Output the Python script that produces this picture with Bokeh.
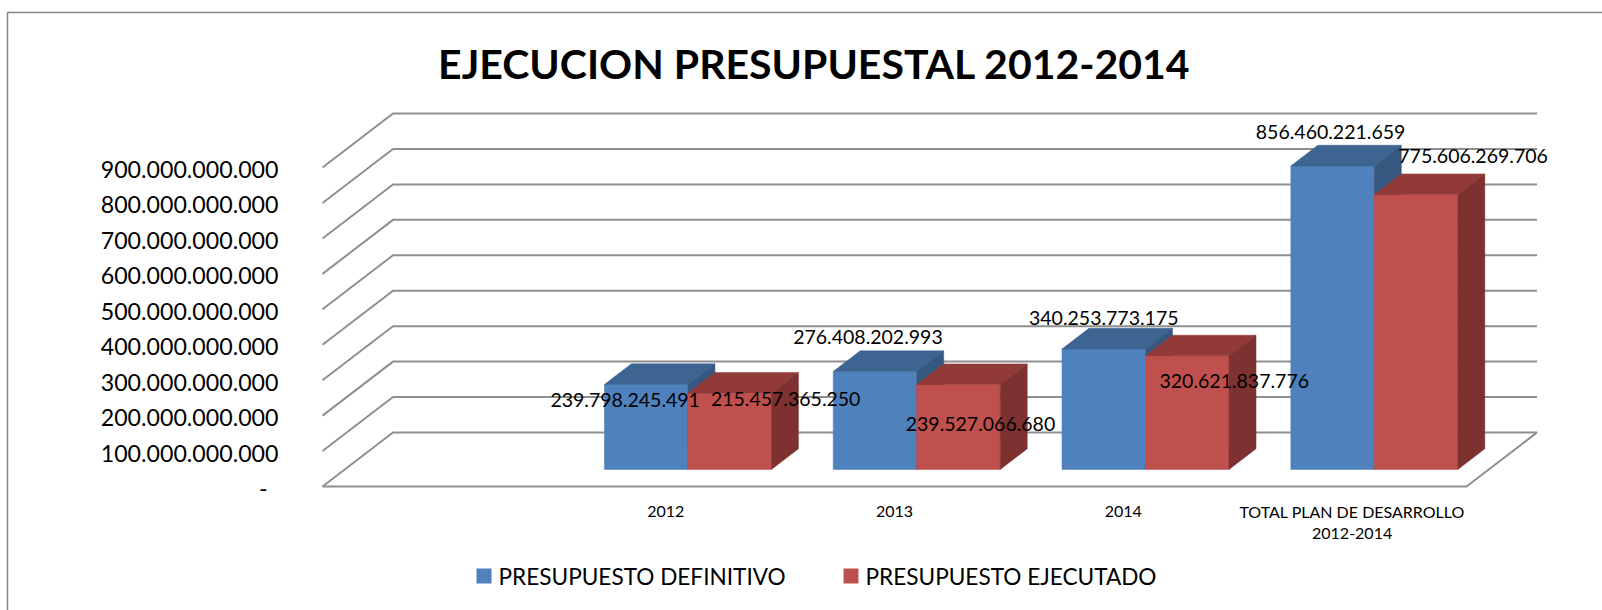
from bokeh.plotting import figure
from bokeh.models import Range1d
from bokeh.core.properties import value
from bokeh.embed import file_html
from bokeh.resources import INLINE

# ---------------- data ----------------
title = "EJECUCION PRESUPUESTAL 2012-2014"
categories = ["2012", "2013", "2014", "TOTAL PLAN DE DESARROLLO\n2012-2014"]
series_names = ["PRESUPUESTO DEFINITIVO", "PRESUPUESTO EJECUTADO"]
definitivo = [239798245491, 276408202993, 340253773175, 856460221659]
ejecutado = [215457365250, 239527066680, 320621837776, 775606269706]
y_ticks = [0, 100e9, 200e9, 300e9, 400e9, 500e9, 600e9, 700e9, 800e9, 900e9]
y_tick_labels = ["-", "100.000.000.000", "200.000.000.000", "300.000.000.000",
                 "400.000.000.000", "500.000.000.000", "600.000.000.000",
                 "700.000.000.000", "800.000.000.000", "900.000.000.000"]

# ---------------- layout / style ----------------
W, H = 1602, 610
FRONT_LEFT_PX = 322.0      # screen x of front plane start
SLOT_PX = 228.8            # pixels per category slot
BASE_PX = 486.0            # screen y of value 0 on the front plane
PX_PER_UNIT = 35.44 / 100e9
DEPTH_DX_PX, DEPTH_DY_PX = 70.5, 54.0
N_SLOTS = 5                # first slot is empty
Z0, Z1 = 0.315, 0.698      # bar depth extent (fraction of floor depth)
BAR_W = 0.365              # bar width in slot units
FONT = value("Lato")
colors_front = ["#4F81BD", "#C0504D"]
colors_top = ["#3E6491", "#923A38"]
colors_side = ["#36577F", "#7D3130"]
grid_color = "#8F8F8F"
# label centre offsets (px) relative to the front-top centre of each bar
label_dx = [[-21, -7, 0, -2], [56, 22, 47, 57]]
label_dy = [[15, -35, -31, -34], [6, 39, 25, -39]]


def sx(px):
    return (px - FRONT_LEFT_PX) / SLOT_PX


def sy(py):
    return (BASE_PX - py) / PX_PER_UNIT


DX = DEPTH_DX_PX / SLOT_PX
DY = DEPTH_DY_PX / PX_PER_UNIT

p = figure(width=W, height=H, x_range=Range1d(sx(0), sx(W)), y_range=Range1d(sy(H), sy(0)),
           x_axis_type=None, y_axis_type=None, toolbar_location=None, output_backend="svg",
           min_border=0)
p.outline_line_color = None
p.grid.visible = False
p.background_fill_color = "white"

# chart border
p.line(x=[sx(7), sx(7), sx(W + 10)], y=[sy(H + 10), sy(12), sy(12)],
       line_color="#868686", line_width=1.5)

# title
p.text(x=[sx(814)], y=[sy(62.5)], text=[title], text_font=FONT, text_font_style="bold",
       text_font_size="41px", text_align="center", text_baseline="middle", text_color="black")

# wall gridlines + side diagonals
gx, gy = [], []
for t in y_ticks:
    gx.append([0, DX, N_SLOTS + DX])
    gy.append([t, t + DY, t + DY])
gx.append([0, N_SLOTS, N_SLOTS + DX])
gy.append([0, 0, DY])
p.multi_line(xs=gx, ys=gy, line_color=grid_color, line_width=2)

# y tick labels
fs_y = 23.2
ylx = [sx(278 - (11 if lab == "-" else 0)) for lab in y_tick_labels]
yly = [t - 2 / PX_PER_UNIT for t in y_ticks]
p.text(x=ylx, y=yly, text=y_tick_labels, text_font=FONT, text_font_size=f"{fs_y}px",
       text_align="right", text_baseline="middle", text_color="black")

# bars (painter's order)
px_, py_, pc = [], [], []
series = [definitivo, ejecutado]
for i in range(len(categories)):
    c = i + 1.5
    for s in range(2):
        v = series[s][i]
        x0 = c - BAR_W if s == 0 else c
        x1 = x0 + BAR_W
        a0x, a0y = Z0 * DX, Z0 * DY
        a1x, a1y = Z1 * DX, Z1 * DY
        # front
        px_.append([x0 + a0x, x1 + a0x, x1 + a0x, x0 + a0x])
        py_.append([a0y, a0y, v + a0y, v + a0y])
        pc.append(colors_front[s])
        # top
        px_.append([x0 + a0x, x1 + a0x, x1 + a1x, x0 + a1x])
        py_.append([v + a0y, v + a0y, v + a1y, v + a1y])
        pc.append(colors_top[s])
        # side
        px_.append([x1 + a0x, x1 + a1x, x1 + a1x, x1 + a0x])
        py_.append([a0y, a1y, v + a1y, v + a0y])
        pc.append(colors_side[s])
p.patches(xs=px_, ys=py_, fill_color=pc, line_color=pc, line_width=0.5)

# value labels
fs_v = 19.5
lx, ly, lt = [], [], []
for i in range(len(categories)):
    c = i + 1.5
    for s in range(2):
        v = series[s][i]
        x0 = c - BAR_W if s == 0 else c
        cx = x0 + BAR_W / 2 + Z0 * DX
        cy = v + Z0 * DY
        lx.append(cx + label_dx[s][i] / SLOT_PX)
        ly.append(cy - label_dy[s][i] / PX_PER_UNIT)
        lt.append(f"{int(v):,}".replace(",", "."))
p.text(x=lx, y=ly, text=lt, text_font=FONT, text_font_size=f"{fs_v}px",
       text_align="center", text_baseline="middle", text_color="black")

# category labels
fs_c = 16
cx_, cy_, ct = [], [], []
for i, cat in enumerate(categories):
    for j, line in enumerate(cat.split("\n")):
        cx_.append(i + 1.5)
        cy_.append(sy(510.7 + 22 * j))
        ct.append(line)
p.text(x=cx_, y=cy_, text=ct, text_font=FONT, text_font_size=f"{fs_c}px",
       text_align="center", text_baseline="middle", text_color="black")

# legend
leg_sq_x = [483.5, 850.5]
leg_tx = [498, 865]
p.scatter(x=[sx(v) for v in leg_sq_x], y=[sy(575.5)] * 2, marker="square", size=15,
          fill_color=colors_front, line_color=None)
p.text(x=[sx(v) for v in leg_tx], y=[sy(575.7)] * 2, text=series_names, text_font=FONT,
       text_font_size="22.6px", text_align="left", text_baseline="middle", text_color="black")

open("out.html", "w").write(file_html(p, INLINE))
